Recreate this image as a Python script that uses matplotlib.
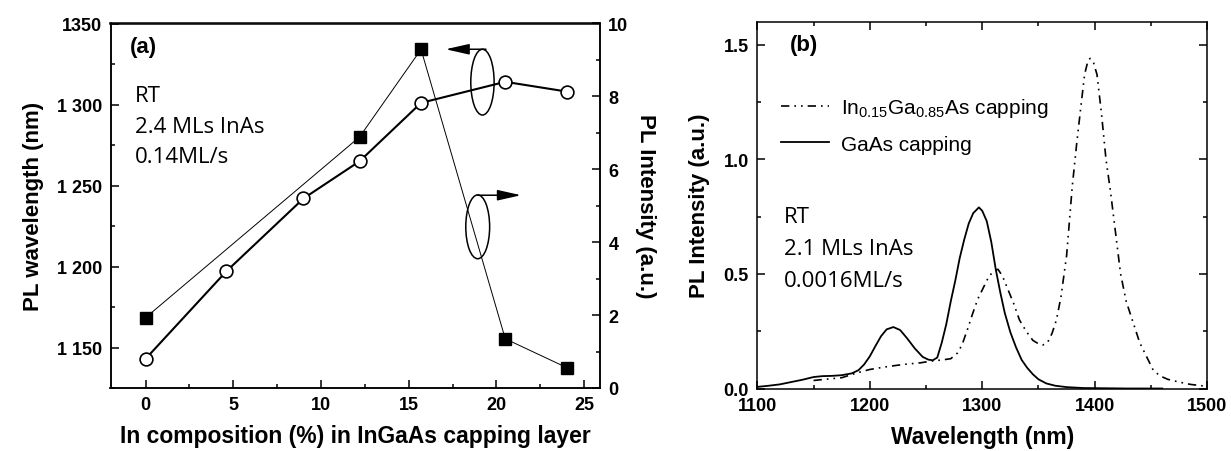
import matplotlib
matplotlib.use('Agg')
import matplotlib.pyplot as plt
from matplotlib.patches import Ellipse
from matplotlib.ticker import MultipleLocator, FixedLocator
from matplotlib import font_manager

# ---------------- data ----------------
comp_circle = [0, 4.6, 9.0, 12.2, 15.7, 20.5, 24.0]
wavelength_nm = [1143, 1197, 1242, 1265, 1301, 1314, 1308]
comp_square = [0, 12.2, 15.7, 20.5, 24.0]
intensity_au = [1.93, 6.89, 9.29, 1.35, 0.56]

left_ticks = [1150, 1200, 1250, 1300, 1350]
left_ticklabels = ['1 150', '1 200', '1 250', '1 300', '1350']
right_ticks = [0, 2, 4, 6, 8, 10]
comp_ticks = [0, 5, 10, 15, 20, 25]

gaas_wl = [1100, 1110, 1120, 1130, 1140, 1150, 1158, 1166, 1175, 1184, 1190, 1195,
           1200, 1205, 1210, 1215, 1221, 1227, 1233, 1240, 1247, 1252, 1256, 1260,
           1264, 1268, 1272, 1276, 1280, 1284, 1288, 1292, 1297, 1300, 1304, 1308,
           1312, 1316, 1320, 1325, 1330, 1335, 1340, 1345, 1350, 1357, 1365, 1375,
           1390, 1410, 1430, 1460]
gaas_int = [0.007, 0.012, 0.018, 0.028, 0.038, 0.050, 0.054, 0.055, 0.058, 0.066, 0.080, 0.105,
            0.140, 0.185, 0.228, 0.258, 0.268, 0.255, 0.220, 0.175, 0.138, 0.126, 0.123, 0.135,
            0.200, 0.280, 0.380, 0.470, 0.570, 0.650, 0.720, 0.765, 0.790, 0.775, 0.730, 0.640,
            0.520, 0.420, 0.330, 0.245, 0.180, 0.125, 0.090, 0.062, 0.040, 0.022, 0.012, 0.006,
            0.002, 0.001, 0.0, 0.0]

ingaas_wl = [1150, 1160, 1175, 1190, 1200, 1215, 1230, 1245, 1255, 1265, 1272, 1278,
             1282, 1287, 1291, 1296, 1301, 1306, 1311, 1314, 1318, 1323, 1328, 1333,
             1339, 1345, 1350, 1354, 1358, 1362, 1366, 1370, 1375, 1380, 1384, 1387,
             1391, 1394, 1396, 1399, 1402, 1406, 1410, 1414, 1418, 1423, 1428, 1434,
             1440, 1446, 1452, 1458, 1465, 1475, 1485, 1495, 1500]
ingaas_int = [0.035, 0.040, 0.047, 0.070, 0.083, 0.095, 0.105, 0.112, 0.120, 0.125, 0.130, 0.155,
              0.190, 0.260, 0.320, 0.390, 0.440, 0.490, 0.515, 0.520, 0.490, 0.430, 0.370, 0.300,
              0.250, 0.210, 0.195, 0.190, 0.200, 0.240, 0.300, 0.400, 0.580, 0.880, 1.070, 1.200,
              1.370, 1.430, 1.440, 1.420, 1.370, 1.200, 1.000, 0.860, 0.700, 0.500, 0.380, 0.290,
              0.200, 0.140, 0.080, 0.055, 0.040, 0.028, 0.018, 0.012, 0.010]

spec_xticks = [1100, 1200, 1300, 1400, 1500]
spec_yticks = [0.0, 0.5, 1.0, 1.5]

# ---------------- style ----------------
W, H = 1231, 452
avail = {f.name for f in font_manager.fontManager.ttflist}
narrow = 'Liberation Sans Narrow' if 'Liberation Sans Narrow' in avail else 'Liberation Sans'
plt.rcParams['font.family'] = [narrow, 'DejaVu Sans']
plt.rcParams['mathtext.fontset'] = 'custom'
plt.rcParams['mathtext.rm'] = 'Liberation Sans'
plt.rcParams['mathtext.it'] = 'Liberation Sans'
plt.rcParams['axes.linewidth'] = 1.1
tick_font = dict(family=narrow, weight='bold', size=13)
xlabel_font = dict(family=narrow, weight='bold', size=16.5)
ylabel_font = dict(family=narrow, weight='bold', size=16)
note_family = ['Open Sans', 'DejaVu Sans']

fig = plt.figure(figsize=(W / 100, H / 100), dpi=100)


def box(l, r, t, b):
    return [l / W, 1 - b / H, (r - l) / W, (b - t) / H]


def style_ticks(ax, **kw):
    ax.tick_params(which='both', direction='in', width=1.1, **kw)
    ax.tick_params(which='major', length=5.5, pad=6)
    ax.tick_params(which='minor', length=3)


# ---------------- panel (a) ----------------
ax1 = fig.add_axes(box(110.5, 600, 24.5, 389))
ax1r = ax1.twinx()

ax1.plot(comp_circle, wavelength_nm, color='k', lw=1.5, marker='o', ms=9.2,
         mfc='white', mec='k', mew=1.2, zorder=3)
ax1r.plot(comp_square, intensity_au, color='k', lw=0.7, marker='s', ms=8.6,
          mfc='k', mec='k', zorder=3)

ax1.set_xlim(-2, 25.9)
ax1.set_ylim(1125, 1350)
ax1r.set_ylim(0, 10)

ax1.xaxis.set_major_locator(FixedLocator(comp_ticks))
ax1.xaxis.set_minor_locator(MultipleLocator(2.5))
ax1.set_xticklabels([str(v) for v in comp_ticks], **tick_font)
ax1.yaxis.set_major_locator(FixedLocator(left_ticks))
ax1.yaxis.set_minor_locator(MultipleLocator(25))
ax1.set_yticklabels(left_ticklabels, **tick_font)
ax1r.yaxis.set_major_locator(FixedLocator(right_ticks))
ax1r.yaxis.set_minor_locator(MultipleLocator(1))
ax1r.set_yticklabels([str(v) for v in right_ticks], **tick_font)
style_ticks(ax1, top=False, right=False)
style_ticks(ax1r, left=False, right=True, top=False)

ax1.set_xlabel('In composition (%) in InGaAs capping layer', labelpad=8, **xlabel_font)
ax1.set_ylabel('PL wavelength (nm)', labelpad=9, **ylabel_font)
ax1r.set_ylabel('PL Intensity (a.u.)', rotation=270, labelpad=20, **ylabel_font)

# ellipses and arrows
ax1.add_patch(Ellipse((19.2, 1313.8), 1.33, 40.6, fill=False, lw=1.1, ec='k', zorder=4))
ax1.add_patch(Ellipse((18.93, 1224.5), 1.36, 39.4, fill=False, lw=1.1, ec='k', zorder=4))
arrow_kw = dict(arrowstyle='-|>,head_length=1.2,head_width=0.27', lw=1.1, color='k',
                mutation_scale=12, shrinkA=0, shrinkB=0)
ax1.annotate('', xy=(17.1, 1334.1), xytext=(19.4, 1334.1), arrowprops=arrow_kw, zorder=5)
ax1.annotate('', xy=(21.4, 1244.0), xytext=(18.93, 1244.0), arrowprops=arrow_kw, zorder=5)

fig.text(143 / W, 1 - 48 / H, '(a)', ha='center', va='center',
         family=narrow, weight='bold', size=16)
for txt, yb in [('RT', 101.7), ('2.4 MLs InAs', 133.3), ('0.14ML/s', 163.3)]:
    fig.text(135 / W, 1 - yb / H, txt, ha='left', va='baseline', family=note_family, size=16)

# ---------------- panel (b) ----------------
ax2 = fig.add_axes(box(757.3, 1207.2, 22.7, 389.5))
dashdot = (0, (5, 3, 1, 3, 1, 3))
ax2.plot(ingaas_wl, ingaas_int, color='k', lw=1.2, ls=dashdot,
         label=r'In$_{0.15}$Ga$_{0.85}$As capping')
ax2.plot(gaas_wl, gaas_int, color='k', lw=1.3, label='GaAs capping')
ax2.set_xlim(1100, 1500)
ax2.set_ylim(0, 1.6)
ax2.xaxis.set_major_locator(FixedLocator(spec_xticks))
ax2.xaxis.set_minor_locator(MultipleLocator(50))
ax2.set_xticklabels([str(v) for v in spec_xticks], **tick_font)
ax2.yaxis.set_major_locator(FixedLocator(spec_yticks))
ax2.yaxis.set_minor_locator(MultipleLocator(0.25))
ax2.set_yticklabels([f'{v:.1f}' for v in spec_yticks], **tick_font)
style_ticks(ax2, top=True, right=True)
ax2.set_xlabel('Wavelength (nm)', labelpad=8, **xlabel_font)
ax2.set_ylabel('PL Intensity (a.u.)', labelpad=10, **ylabel_font)

leg = ax2.legend(loc='upper left', bbox_to_anchor=(781 / W, 1 - 97 / H),
                 bbox_transform=fig.transFigure, frameon=False, borderpad=0,
                 borderaxespad=0, handlelength=2.3, handletextpad=0.6,
                 labelspacing=0.75, prop=dict(family='Liberation Sans', size=15))

fig.text(804 / W, 1 - 45 / H, '(b)', ha='center', va='center',
         family=narrow, weight='bold', size=16)
for txt, yb in [('RT', 223.3), ('2.1 MLs InAs', 255), ('0.0016ML/s', 286.7)]:
    fig.text(784 / W, 1 - yb / H, txt, ha='left', va='baseline', family=note_family, size=16)

fig.savefig('out.png', dpi=100)
